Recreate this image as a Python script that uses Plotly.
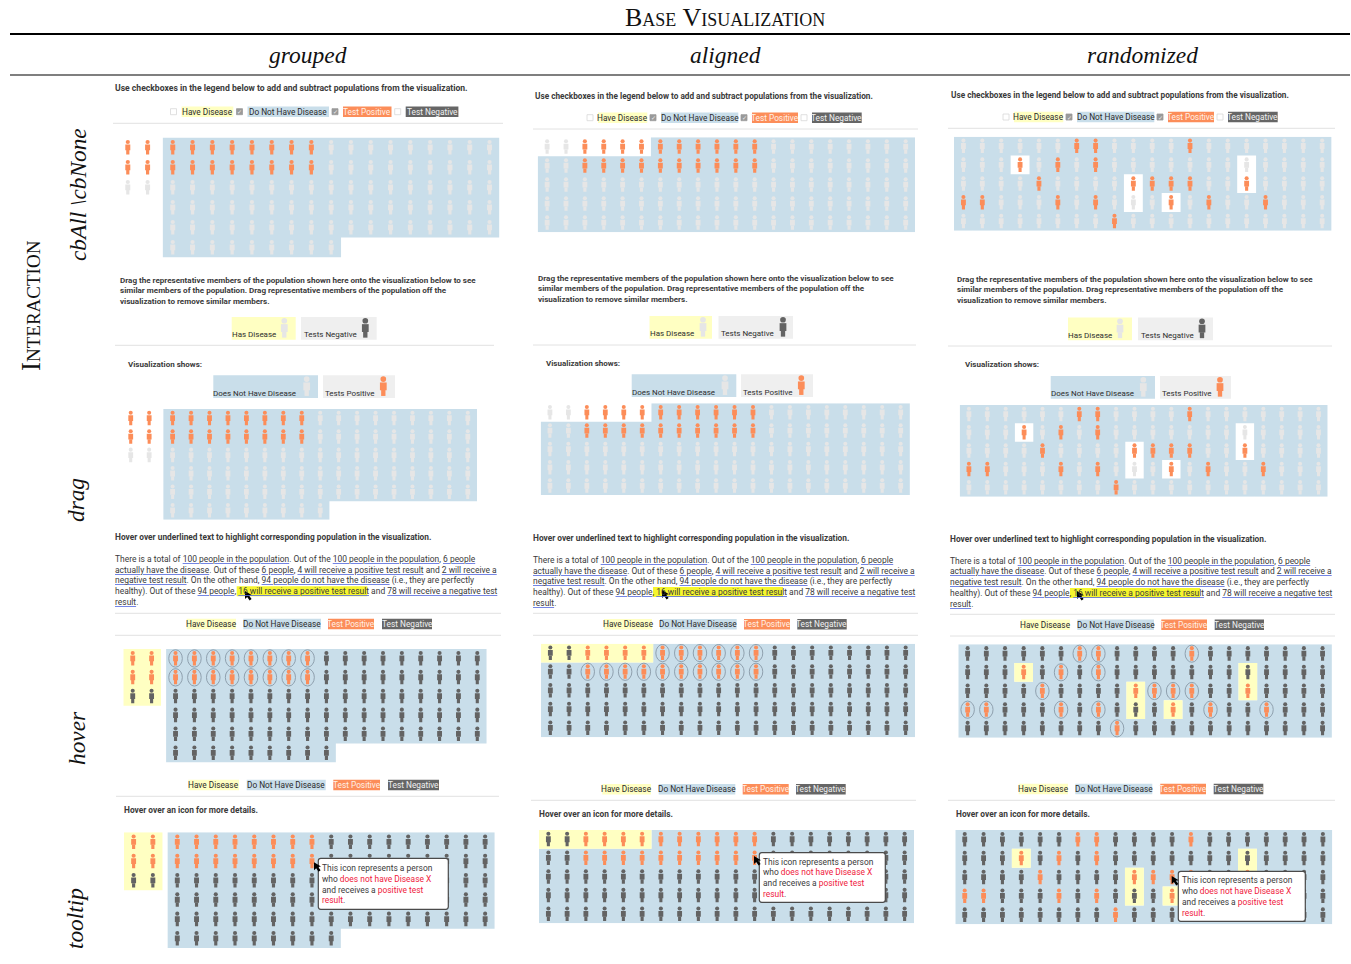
"""Base visualization grid: 100-person icon arrays by layout and interaction."""

import plotly.graph_objects as go

# ---- data --------------------------------------------------------------

LAYOUTS = ["grouped", "aligned", "randomized"]
INTERACTIONS = ["cbAll \\cbNone", "drag", "hover", "tooltip"]

# P/N = has disease, tests positive/negative; p/n = no disease, tests positive/negative
GROUPED_ROWS = [
    "PPppppppppnnnnnnnnn",
    "PPppppppppnnnnnnnnn",
    "NNnnnnnnnnnnnnnnnnn",
    "  nnnnnnnnnnnnnnnnn",
    "  nnnnnnnnnnnnnnnnn",
    "  nnnnnnnnn",
]
ALIGNED_ROWS = [
    "NNPPPPppppppnnnnnnnn",
    "nnppppppppppnnnnnnnn",
    "nnnnnnnnnnnnnnnnnnnn",
    "nnnnnnnnnnnnnnnnnnnn",
    "nnnnnnnnnnnnnnnnnnnn",
]
RANDOM_ROWS = [
    "nnnnnnppnnnnpnnnnnnn",
    "nnnPnpnpnnnnnnnNnnnn",
    "nnnnpnnnnPpppnnPnnnn",
    "ppnnnpnpnNnPnpnnpnnn",
    "nnnnnnnnpnnnnnnnnnnn",
]
ROWS_BY_LAYOUT = {"grouped": GROUPED_ROWS, "aligned": ALIGNED_ROWS, "randomized": RANDOM_ROWS}
GROUP_GAP = 0.27

# left, top, cell width, cell height of every array
PANEL_BOXES = {
    (0, "grouped"): (117.9, 137.5, 19.8, 20.0),
    (0, "aligned"): (537.7, 137.3, 18.87, 19.0),
    (0, "randomized"): (954.0, 136.7, 18.88, 18.8),
    (1, "grouped"): (121.5, 409.0, 18.45, 18.45),
    (1, "aligned"): (540.7, 403.3, 18.46, 18.34),
    (1, "randomized"): (959.7, 405.0, 18.4, 18.35),
    (2, "grouped"): (123.3, 649.0, 18.86, 18.9),
    (2, "aligned"): (541.0, 643.7, 18.7, 18.73),
    (2, "randomized"): (958.3, 644.3, 18.68, 18.68),
    (3, "grouped"): (124.0, 832.3, 19.24, 19.3),
    (3, "aligned"): (539.0, 830.0, 18.75, 18.67),
    (3, "randomized"): (955.3, 830.0, 18.85, 18.87),
}

CHECK_TEXT = "Use checkboxes in the legend below to add and subtract populations from the visualization."
DRAG_TEXT = [
    "Drag the representative members of the population shown here onto the visualization below to see",
    "similar members of the population. Drag representative members of the population off the",
    "visualization to remove similar members.",
]
HOVER_TITLE = "Hover over underlined text to highlight corresponding population in the visualization."
HOVER_LINES = [
    "There is a total of <u>100 people in the population</u>. Out of the <u>100 people in the population</u>, <u>6 people</u>",
    "<u>actually have the disease</u>. Out of these <u>6 people</u>, <u>4 will receive a positive test result</u> and <u>2 will receive a</u>",
    "<u>negative test result</u>. On the other hand, <u>94 people do not have the disease</u> (i.e., they are perfectly",
    "healthy). Out of these <u>94 people</u>, <u>16 will receive a positive test result</u> and <u>78 will receive a negative test</u>",
    "<u>result</u>.",
]
TOOLTIP_TITLE = "Hover over an icon for more details."
TOOLTIP_LINES = [
    "This icon represents a person",
    "who <span style=\"color:#F0203C\">does not have Disease X</span>",
    "and receives a <span style=\"color:#F0203C\">positive test</span>",
    "<span style=\"color:#F0203C\">result</span>.",
]
LEGEND_LABELS = ["Have Disease", "Do Not Have Disease", "Test Positive", "Test Negative"]

# ---- styles ------------------------------------------------------------

W, H = 1351, 964
BLUE, YELLOW, ORANGE, DARK, PALE = "#C9DEEA", "#FFFFC2", "#FC8D59", "#636363", "#E6E6E6"
CHIP_GREY, RULE = "#EFEFEF", "#E2E2E2"
INK = "#3A3A3A"
SANS, SERIF = "Roboto", "Liberation Serif"
LEGEND_FILL = [YELLOW, BLUE, ORANGE, "#666666"]
LEGEND_INK = ["#2A2A2A", "#2A2A2A", "#FFF1E8", "#F2F2F2"]

fig = go.Figure()
shapes, notes = [], []


def px(x):
    return x / W


def py(y):
    return 1 - y / H


def text(x, y, s, size=8.03, color=INK, anchor="left", family=SANS, **extra):
    if anchor == "left":
        x -= 1
    notes.append(dict(x=px(x), y=py(y), xref="paper", yref="paper", text=s, showarrow=False,
                      xanchor=anchor, yanchor="middle", align=anchor,
                      borderpad=0, font=dict(family=family, size=size, color=color), **extra))


def rect(x0, y0, x1, y1, fill, layer="below", line=None):
    shapes.append(dict(type="rect", xref="paper", yref="paper", x0=px(x0), x1=px(x1), y0=py(y0), y1=py(y1),
                       fillcolor=fill, layer=layer, line=line or dict(width=0)))


def round_box(x0, y0, x1, y1, r=2.5):
    d = (f"M{px(x0 + r)},{py(y0)} L{px(x1 - r)},{py(y0)} Q{px(x1)},{py(y0)} {px(x1)},{py(y0 + r)} "
         f"L{px(x1)},{py(y1 - r)} Q{px(x1)},{py(y1)} {px(x1 - r)},{py(y1)} "
         f"L{px(x0 + r)},{py(y1)} Q{px(x0)},{py(y1)} {px(x0)},{py(y1 - r)} "
         f"L{px(x0)},{py(y0 + r)} Q{px(x0)},{py(y0)} {px(x0 + r)},{py(y0)} Z")
    shapes.append(dict(type="path", xref="paper", yref="paper", path=d, fillcolor="#FFFFFF",
                       line=dict(color="#4A4A4A", width=1.2), layer="above"))


def rule(x0, x1, y, color=RULE, width=1.0):
    shapes.append(dict(type="line", xref="paper", yref="paper", x0=px(x0), x1=px(x1), y0=py(y), y1=py(y),
                       line=dict(color=color, width=width), layer="below"))


def cursor(x, y):
    # mouse arrow, tip at x, y
    pts = [(0, 0), (0, 8), (2.2, 6), (4.6, 9.4), (6.6, 8), (4.2, 4.8), (7, 4.2)]
    d = "M" + " L".join(f"{px(x + a)},{py(y + b)}" for a, b in pts) + " Z"
    shapes.append(dict(type="path", xref="paper", yref="paper", path=d, fillcolor="black",
                       line=dict(width=0), layer="above"))


def person_traces(xs, ys, color, unit_y, scale, xaxis, yaxis):
    # icon made of head, torso and legs, offsets are pixels of a 20px cell
    torso_x, torso_y, leg_x, leg_y, head_x, head_y = [], [], [], [], [], []
    for x, y in zip(xs, ys):
        head_x.append(x)
        head_y.append(y - 5.5 * unit_y)
        torso_x += [x, x, None]
        torso_y += [y - 3.0 * unit_y, y + 2.8 * unit_y, None]
        leg_x += [x, x, None]
        leg_y += [y + 2.6 * unit_y, y + 7.0 * unit_y, None]
    common = dict(mode="lines", hoverinfo="skip", xaxis=xaxis, yaxis=yaxis)
    fig.add_trace(go.Scatter(x=torso_x, y=torso_y, line=dict(color=color, width=5.0 * scale), **common))
    fig.add_trace(go.Scatter(x=leg_x, y=leg_y, line=dict(color=color, width=3.2 * scale), **common))
    fig.add_trace(go.Scatter(x=head_x, y=head_y, mode="markers", hoverinfo="skip", xaxis=xaxis, yaxis=yaxis,
                             marker=dict(color=color, size=4.2 * scale, line=dict(width=0))))


def cell_fill(cells, color, xaxis, yaxis):
    xs, ys = [], []
    for x, y in cells:
        xs += [x - 0.5, x + 0.5, x + 0.5, x - 0.5, x - 0.5, None]
        ys += [y - 0.5, y - 0.5, y + 0.5, y + 0.5, y - 0.5, None]
    if xs:
        fig.add_trace(go.Scatter(x=xs, y=ys, mode="lines", fill="toself", fillcolor=color, line=dict(width=0),
                                 hoverinfo="skip", xaxis=xaxis, yaxis=yaxis))


# ---- icon arrays -------------------------------------------------------

layout_axes = {}
axis_no = 0
for (row_i, name), (left, top, cw, ch) in PANEL_BOXES.items():
    axis_no += 1
    xaxis, yaxis = f"x{axis_no}", f"y{axis_no}"
    rows = ROWS_BY_LAYOUT[name]
    n_cols = max(len(r) for r in rows)
    span_x = n_cols + (GROUP_GAP if name == "grouped" else 0)
    span_y = len(rows)
    layout_axes[f"xaxis{axis_no}"] = dict(domain=[px(left), px(left + span_x * cw)], range=[-0.5, span_x - 0.5],
                                          visible=False, fixedrange=True, anchor=yaxis)
    layout_axes[f"yaxis{axis_no}"] = dict(domain=[py(top + span_y * ch), py(top)], range=[span_y - 0.5, -0.5],
                                          visible=False, fixedrange=True, anchor=xaxis)
    people = []
    for r, line in enumerate(rows):
        for c, kind in enumerate(line):
            if kind != " ":
                gap = GROUP_GAP if name == "grouped" and c >= 2 else 0
                people.append((c + gap, r, kind))
    cell_fill([(x, y) for x, y, k in people if k in "pn"], BLUE, xaxis, yaxis)
    if row_i >= 2:
        cell_fill([(x, y) for x, y, k in people if k in "PN"], YELLOW, xaxis, yaxis)
    neg_color = DARK if row_i >= 2 else PALE
    neg = [(x, y) for x, y, k in people if k in "Nn"]
    pos = [(x, y) for x, y, k in people if k in "Pp"]
    scale = (ch / 20) ** 0.5
    person_traces([p[0] for p in neg], [p[1] for p in neg], neg_color, 1 / ch, scale, xaxis, yaxis)
    person_traces([p[0] for p in pos], [p[1] for p in pos], ORANGE, 1 / ch, scale, xaxis, yaxis)
    if row_i == 2:
        for x, y, k in people:
            if k == "p":
                shapes.append(dict(type="circle", xref=xaxis, yref=yaxis, x0=x - 0.36, x1=x + 0.36,
                                   y0=y - 0.46, y1=y + 0.46, line=dict(color="#8FA0AE", width=1), layer="above"))

# page axes for the large legend icons
axis_no += 1
layout_axes[f"xaxis{axis_no}"] = dict(domain=[0, 1], range=[0, W], visible=False, fixedrange=True, anchor=f"y{axis_no}")
layout_axes[f"yaxis{axis_no}"] = dict(domain=[0, 1], range=[H, 0], visible=False, fixedrange=True, anchor=f"x{axis_no}")
page = (f"x{axis_no}", f"y{axis_no}")


def big_icon(x, y, color):
    person_traces([x], [y], color, 1.35, 1.35, *page)


# ---- frame -------------------------------------------------------------

text(725, 17, "Base Visualization", size=26, color="#111111", anchor="center", family=SERIF)
notes[-1]["font"]["variant"] = "small-caps"
rule(10, 1350, 34, "#000000", 2)
rule(10, 1350, 75, "#000000", 1.2)
for name, x in zip(LAYOUTS, [308, 725, 1142]):
    text(x, 55, f"<i>{name}</i>", size=23.5, color="#111111", anchor="center", family=SERIF)
for label, x, y in zip(INTERACTIONS, [78, 76, 77, 75], [195, 500, 738, 919]):
    text(x, y, f"<i>{label}</i>", size=23.3, color="#111111", anchor="center", family=SERIF, textangle=-90)
text(31, 306, "Interaction", size=27, color="#111111", anchor="center", family=SERIF, textangle=-90)
notes[-1]["font"]["variant"] = "small-caps"


def legend_row(y, spans, checks=None):
    for i, (label, (x0, x1)) in enumerate(zip(LEGEND_LABELS, spans)):
        rect(x0, y - 5.2, x1, y + 5.2, LEGEND_FILL[i])
        text((x0 + x1) / 2, y, label, size=8.29, color=LEGEND_INK[i], anchor="center")
        if checks is not None:
            checked = checks[i]
            rect(x0 - 11, y - 3, x0 - 5, y + 3, "#9A9A9A" if checked else "#FFFFFF",
                 line=dict(color="#9A9A9A" if checked else "#D8D8D8", width=0.8))
            if checked:
                text(x0 - 8, y, "✓", size=6, color="#EEEEEE", anchor="center")


# ---- row 1: checkboxes -------------------------------------------------

CHECKED = [False, True, True, False]
text(115, 88, f"<b>{CHECK_TEXT}</b>", size=8.6)
legend_row(111.7, [(181.5, 233.3), (247.5, 329), (343, 391.5), (405.7, 458.4)], CHECKED)
rule(113, 503, 123.3)
text(535, 96, f"<b>{CHECK_TEXT}</b>", size=8.24)
legend_row(117.7, [(598, 647.3), (661, 738.3), (752, 798), (812, 861.7)], CHECKED)
rule(533, 918, 129)
text(951, 95, f"<b>{CHECK_TEXT}</b>", size=8.24)
legend_row(117, [(1014, 1063.3), (1077, 1154.3), (1168, 1214), (1228, 1277.7)], CHECKED)
rule(948, 1335, 128.3)

# ---- row 2: drag -------------------------------------------------------


def drag_panel(tx, ty, top_chips, rule_span, vis_x, vis_y, bottom_chips):
    for i, line in enumerate(DRAG_TEXT):
        text(tx, ty + i * 10.7, f"<b>{line}</b>", size=8.07)
    for label, x0, x1, label_x, icon_x, icon_color, y0, fill in top_chips + bottom_chips:
        rect(x0, y0, x1, y0 + 22.7, fill)
        text(label_x, y0 + 17.7, label, size=7.98, color="#2E2E2E")
        big_icon(icon_x, y0 + 11.2, icon_color)
    rule(rule_span[0], rule_span[1], rule_span[2])
    text(vis_x, vis_y, "<b>Visualization shows:</b>")


drag_panel(120, 280,
           [("Has Disease", 231.7, 295.7, 231.7, 284.3, PALE, 317, YELLOW),
            ("Tests Negative", 301, 376.7, 303.7, 365.3, DARK, 317, CHIP_GREY)],
           (115, 494, 345.3), 127.5, 364.3,
           [("Does Not Have Disease", 213.3, 318, 213.3, 306.7, PALE, 375.3, BLUE),
            ("Tests Positive", 323, 395, 325.3, 383.3, ORANGE, 375.3, CHIP_GREY)])
drag_panel(538, 278,
           [("Has Disease", 649.5, 712, 649.5, 703, PALE, 316, YELLOW),
            ("Tests Negative", 718.5, 793, 721, 783, DARK, 316, CHIP_GREY)],
           (533, 916, 345), 546, 363.3,
           [("Does Not Have Disease", 631.7, 736.3, 631.7, 725, PALE, 374.3, BLUE),
            ("Tests Positive", 741, 813, 743.3, 801.3, ORANGE, 374.3, CHIP_GREY)])
drag_panel(957, 279,
           [("Has Disease", 1068, 1132, 1068, 1120, PALE, 317.5, YELLOW),
            ("Tests Negative", 1138, 1213, 1140.5, 1202, DARK, 317.5, CHIP_GREY)],
           (948, 1332, 346), 965, 364.7,
           [("Does Not Have Disease", 1050.7, 1155, 1050.7, 1143.3, PALE, 376, BLUE),
            ("Tests Positive", 1160, 1231, 1162.3, 1220, ORANGE, 376, CHIP_GREY)])

# ---- row 3: hover ------------------------------------------------------


def hover_panel(x, title_y, line_ys, highlight, cursor_at, legend_y, spans, rules):
    text(x, title_y, f"<b>{HOVER_TITLE}</b>", size=8.33)
    rect(highlight[0], line_ys[3] - 5, highlight[1], line_ys[3] + 5, "#F6F62E")
    for line, y in zip(HOVER_LINES, line_ys):
        # blue underline below dark glyphs: the decoration takes the outer span's colour
        marked = line.replace("<u>", f"<span style=\"color:#5C6FE0\"><u><span style=\"color:{INK}\">")
        marked = marked.replace("</u>", "</span></u></span>")
        text(x, y, marked, size=8.46)
    cursor(*cursor_at)
    legend_row(legend_y, spans)
    rule(rules[0], rules[1], rules[2])
    rule(rules[0], rules[1], rules[3])


hover_panel(115, 537.3, [559, 570, 580.4, 591.2, 602.2], (236.7, 367.3), (245, 591),
            624, [(186.7, 236), (243.3, 321), (328, 374), (382, 432)], (115, 501, 613.3, 635.3))
hover_panel(533, 538, [560, 571, 581.3, 592, 603], (653, 783), (662, 590),
            624.3, [(604, 652), (660, 736.7), (744, 790), (797.3, 846.7)], (533, 918, 613.3, 635.3))
hover_panel(950, 539, [560.5, 571.3, 582, 593, 604], (1070, 1200), (1077, 591),
            624.7, [(1021, 1070), (1077.3, 1154), (1161.3, 1207), (1214.7, 1264)], (950, 1335, 614.3, 636))

# ---- row 4: tooltip ----------------------------------------------------


def tooltip_panel(title_x, title_y, legend_y, spans, rule_span, box, text_x, line_ys, tip):
    legend_row(legend_y, spans)
    rule(rule_span[0], rule_span[1], rule_span[2])
    text(title_x, title_y, f"<b>{TOOLTIP_TITLE}</b>", size=8.35)
    round_box(*box)
    for line, y in zip(TOOLTIP_LINES, line_ys):
        text(text_x, y, line, size=8.42)
    cursor(*tip)


tooltip_panel(124, 810, 785, [(188.3, 239), (246.7, 325.7), (333.3, 380), (388, 439)], (116, 499, 796.3),
              (318.3, 858.3, 448.3, 909.3), 322.3, [867.7, 878.5, 889.7, 900.3], (314, 862.3))
tooltip_panel(539, 814, 789.3, [(602.3, 651), (658.7, 735.3), (742.7, 788.7), (796, 845.7)], (531, 916, 800.3),
              (759.3, 852.7, 885.3, 902.3), 762.7, [861.7, 872, 883, 893.7], (754, 856))
tooltip_panel(955.5, 814, 789, [(1018.7, 1068), (1075.3, 1152.3), (1160.3, 1206), (1213.7, 1263.3)], (948, 1335, 800.3),
              (1178.3, 871.3, 1305.3, 921.3), 1181.7, [880.3, 891, 902, 912.7], (1171.7, 876))

fig.update_layout(width=W, height=H, margin=dict(l=0, r=0, t=0, b=0), showlegend=False,
                  paper_bgcolor="white", plot_bgcolor="rgba(0,0,0,0)", hovermode=False,
                  shapes=shapes, annotations=notes, **layout_axes)
fig.write_html("out.html", config={"displayModeBar": False}, post_script="document.body.style.margin = '0';")
